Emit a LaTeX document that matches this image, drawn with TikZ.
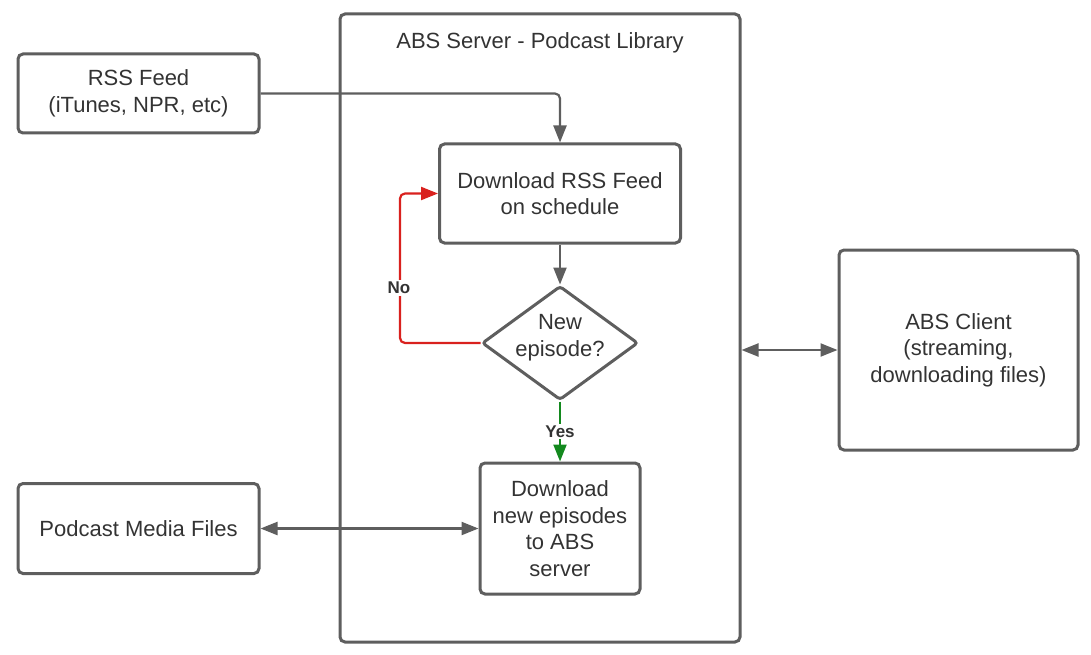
\documentclass[tikz,border=0pt]{standalone}
\usepackage{fontspec}
\setmainfont{Liberation Sans}
\usetikzlibrary{shapes.geometric,arrows.meta}
\definecolor{linegrey}{HTML}{5E5E5E}
\definecolor{textgrey}{HTML}{333333}
\definecolor{nored}{HTML}{D9211E}
\definecolor{yesgreen}{HTML}{13891E}
\tikzset{box/.style={draw=linegrey, line width=3pt, rounded corners=5pt, align=center,
    text=textgrey, font=\fontsize{22}{26.5}\selectfont, inner sep=0pt},
  decision/.style={draw=linegrey, line width=3pt, rounded corners=3pt, shape=diamond, inner sep=0pt},
  label/.style={align=center, text=textgrey, font=\fontsize{22}{27}\selectfont, inner sep=0pt},
  answer/.style={fill=white, text=textgrey, font=\bfseries\fontsize{17}{19}\selectfont, inner sep=2pt},
  tip/.style={-{Triangle[length=17pt,width=13pt]}},
  both/.style={{Triangle[length=17pt,width=13pt]}-{Triangle[length=17pt,width=13pt]}},
  link/.style={draw=linegrey, line width=2.2pt}}

\begin{document}
\begin{tikzpicture}[x=1pt,y=-1pt]
\useasboundingbox (0,0) rectangle (1091,655);
% server container
\node[box, minimum width=400pt, minimum height=628pt] (server) at (540,328) {};
\node[label] (title) at (540,43) {ABS Server - Podcast Library};
% boxes
\node[box, minimum width=241pt, minimum height=79pt] (rss) at (138.5,93.5) {RSS Feed\\(iTunes, NPR, etc)};
\node[box, minimum width=241pt, minimum height=99pt] (dl) at (560,193.5) {Download RSS Feed\\on schedule};
\node[decision, minimum width=156pt, minimum height=114pt] (new) at (560,343) {};
\node[label] (newtext) at (560,338) {New\\episode?};
\node[box, minimum width=160pt, minimum height=131pt] (eps) at (560,528.5) {Download\\new episodes\\to ABS\\server};
\node[box, minimum width=241pt, minimum height=90pt] (media) at (138.5,528.5) {Podcast Media Files};
\node[box, minimum width=239pt, minimum height=200pt] (client) at (958.5,350) {ABS Client\\(streaming,\\downloading files)};
% connectors
\draw[link, tip, rounded corners=5pt] (rss.east) -| (dl.north);
\draw[link, tip] (dl.south) -- (new.north);
\coordinate (nobend) at (400,193.5);
\draw[link, tip, draw=nored, rounded corners=5pt] (new.west) -| (nobend) -- (dl.west);
\node[answer] (no) at (399,288) {No};
\draw[link, tip, draw=yesgreen] (new.south) -- node[answer] (yes) {Yes} (eps.north);
\draw[link, both] (media.east) -- (eps.west);
\draw[link, both] (server.east |- client.west) -- (client.west);
\end{tikzpicture}
\end{document}
